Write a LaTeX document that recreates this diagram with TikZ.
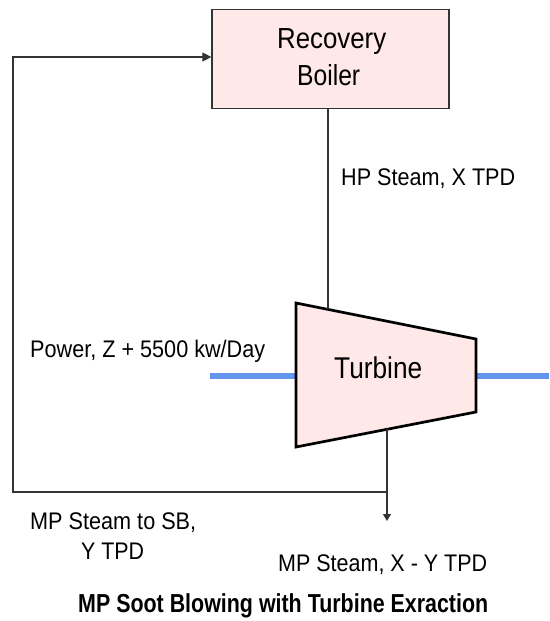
\documentclass[tikz,border=0pt]{standalone}
\usepackage{fontspec}
\setmainfont{Liberation Sans}
\usetikzlibrary{arrows.meta}
\definecolor{boxpink}{RGB}{255,232,232}
\definecolor{shaftblue}{RGB}{100,149,237}
\definecolor{linegrey}{RGB}{51,51,51}
\newcommand{\wtext}[3]{\resizebox{#1pt}{\height}{\fontsize{#2}{#2}\selectfont #3}}
\begin{document}
\begin{tikzpicture}[x=1pt,y=-1pt,
  conn/.style={draw=linegrey,line width=1.1pt},
  arr/.style={conn,-{Triangle[length=9pt,width=9pt]}},
  lbl/.style={inner sep=0pt,anchor=base west},
  shaft/.style={draw=shaftblue,line width=6pt}]
\useasboundingbox (0,0) rectangle (549,621);
% Recovery boiler
\node[draw=linegrey,line width=1.2pt,fill=boxpink,minimum width=237pt,minimum height=99pt,inner sep=0pt] (boiler) at (330.5,59.3) {};
\node[lbl] (rec) at (277,48.3) {\wtext{109}{29}{Recovery}};
\node[lbl] (boi) at (297,85) {\wtext{63}{29}{Boiler}};
% Turbine
\coordinate (t1) at (296,303);
\coordinate (t2) at (476,339);
\coordinate (t3) at (476,412);
\coordinate (t4) at (296,447);
\coordinate (tin) at (328,309.4);
\coordinate (tout) at (387,429.3);
\coordinate (sl) at (210,376);
\coordinate (sr) at (549,376);
\draw[shaft] (sl) -- (t1 |- sl);
\draw[shaft] (t2 |- sr) -- (sr);
\draw[line width=2.7pt,fill=boxpink,line join=miter] (t1) -- (t2) -- (t3) -- (t4) -- cycle;
\node[lbl] (turb) at (334,378.3) {\wtext{88}{30}{Turbine}};
% connectors
\draw[conn] (boiler.south -| tin) -- (tin);
\coordinate (mpout) at (387,521);
\coordinate (junc) at (387,492);
\coordinate (lc1) at (13,492);
\coordinate (lc2) at (13,57);
\draw[conn,-{Triangle[length=7pt,width=8pt]}] (tout) -- (mpout);
\draw[arr] (junc) -- (lc1) -- (lc2) -- (boiler.west |- lc2);
% labels
\node[lbl] (hp) at (341,185) {\wtext{174}{24}{HP Steam, X TPD}};
\node[lbl] (pw) at (30,357.3) {\wtext{235}{24}{Power, Z + 5500 kw/Day}};
\node[lbl] (sb1) at (30,529.3) {\wtext{166}{24}{MP Steam to SB,}};
\node[lbl] (sb2) at (81,559) {\wtext{63}{24}{Y TPD}};
\node[lbl] (mp) at (278,571.7) {\wtext{209}{24}{MP Steam, X - Y TPD}};
\node[lbl] (title) at (78,612.3) {\wtext{410}{26}{\bfseries MP Soot Blowing with Turbine Exraction}};
\end{tikzpicture}
\end{document}
